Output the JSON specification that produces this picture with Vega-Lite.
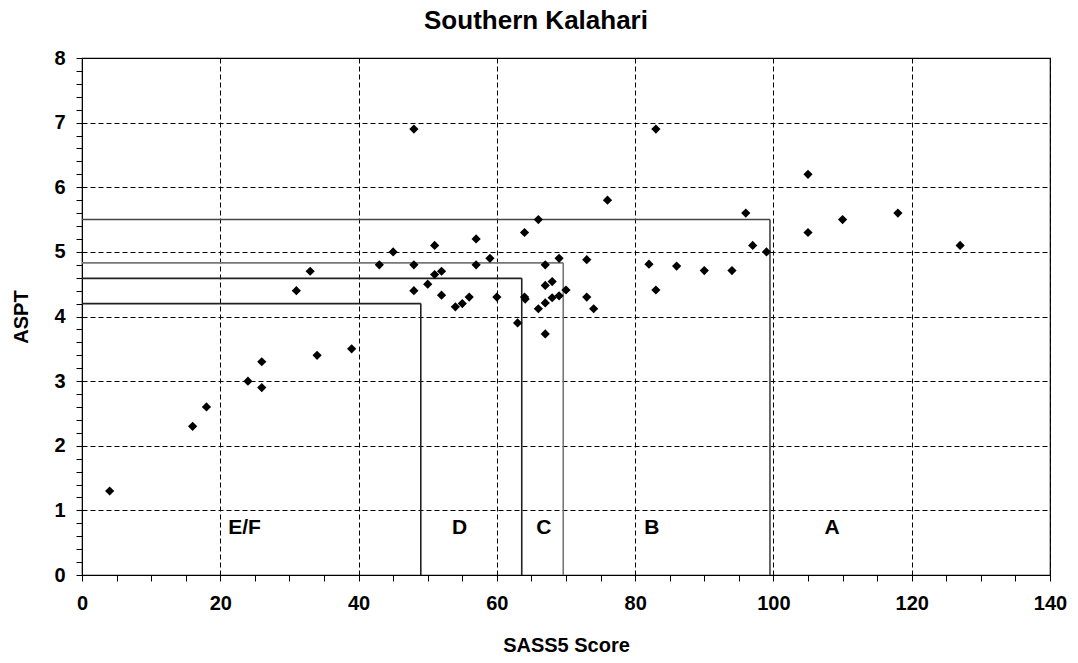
{
  "$schema": "https://vega.github.io/schema/vega-lite/v6.json",
  "autosize": "none",
  "width": 968,
  "height": 517,
  "padding": {"left": 82, "top": 58, "right": 28, "bottom": 88},
  "background": "white",
  "config": {
    "font": "Liberation Sans",
    "view": {"stroke": "black", "strokeWidth": 1.2},
    "axis": {
      "domainColor": "black",
      "tickColor": "black",
      "labelColor": "black",
      "titleColor": "black",
      "labelFont": "Liberation Sans",
      "titleFont": "Liberation Sans",
      "labelFontWeight": "bold",
      "titleFontWeight": "bold",
      "labelFontSize": 20,
      "titleFontSize": 20,
      "labelOverlap": false,
      "labelFlush": false,
      "tickCount": 1000
    }
  },
  "title": {
    "text": "Southern Kalahari",
    "fontSize": 26,
    "fontWeight": "bold",
    "font": "Liberation Sans",
    "color": "black",
    "anchor": "middle",
    "offset": 14,
    "dx": -30
  },
  "datasets": {
    "points": [
      {"score": 4, "aspt": 1.3},
      {"score": 16, "aspt": 2.3},
      {"score": 18, "aspt": 2.6},
      {"score": 24, "aspt": 3.0},
      {"score": 26, "aspt": 3.3},
      {"score": 26, "aspt": 2.9},
      {"score": 31, "aspt": 4.4},
      {"score": 33, "aspt": 4.7},
      {"score": 34, "aspt": 3.4},
      {"score": 39, "aspt": 3.5},
      {"score": 43, "aspt": 4.8},
      {"score": 45, "aspt": 5.0},
      {"score": 48, "aspt": 6.9},
      {"score": 48, "aspt": 4.8},
      {"score": 48, "aspt": 4.4},
      {"score": 50, "aspt": 4.5},
      {"score": 51, "aspt": 5.1},
      {"score": 51, "aspt": 4.65},
      {"score": 52, "aspt": 4.7},
      {"score": 52, "aspt": 4.33},
      {"score": 54, "aspt": 4.15},
      {"score": 55, "aspt": 4.2},
      {"score": 56, "aspt": 4.3},
      {"score": 57, "aspt": 5.2},
      {"score": 57, "aspt": 4.8},
      {"score": 59, "aspt": 4.9},
      {"score": 60, "aspt": 4.3},
      {"score": 63, "aspt": 3.9},
      {"score": 64, "aspt": 5.3},
      {"score": 64, "aspt": 4.3},
      {"score": 64.1, "aspt": 4.27},
      {"score": 66, "aspt": 5.5},
      {"score": 66, "aspt": 4.12},
      {"score": 67, "aspt": 4.8},
      {"score": 67, "aspt": 4.48},
      {"score": 67, "aspt": 4.21},
      {"score": 67, "aspt": 3.73},
      {"score": 68, "aspt": 4.54},
      {"score": 68, "aspt": 4.29},
      {"score": 69, "aspt": 4.9},
      {"score": 69, "aspt": 4.32},
      {"score": 70, "aspt": 4.41},
      {"score": 73, "aspt": 4.88},
      {"score": 73, "aspt": 4.3},
      {"score": 74, "aspt": 4.12},
      {"score": 76, "aspt": 5.8},
      {"score": 82, "aspt": 4.81},
      {"score": 83, "aspt": 6.9},
      {"score": 83, "aspt": 4.41},
      {"score": 86, "aspt": 4.78},
      {"score": 90, "aspt": 4.71},
      {"score": 94, "aspt": 4.71},
      {"score": 96, "aspt": 5.6},
      {"score": 97, "aspt": 5.1},
      {"score": 99, "aspt": 5.0},
      {"score": 105, "aspt": 6.2},
      {"score": 105, "aspt": 5.3},
      {"score": 110, "aspt": 5.5},
      {"score": 118, "aspt": 5.6},
      {"score": 127, "aspt": 5.1}
    ],
    "bands": [
      {"band": "E/F", "x": 0, "x2": 49, "y": 4.2, "y2": 4.2},
      {"band": "E/F", "x": 49, "x2": 49, "y": 0, "y2": 4.2},
      {"band": "D", "x": 0, "x2": 63.6, "y": 4.59, "y2": 4.59},
      {"band": "D", "x": 63.6, "x2": 63.6, "y": 0, "y2": 4.59},
      {"band": "C", "x": 0, "x2": 69.6, "y": 4.83, "y2": 4.83},
      {"band": "C", "x": 69.6, "x2": 69.6, "y": 0, "y2": 4.83},
      {"band": "B", "x": 0, "x2": 99.5, "y": 5.5, "y2": 5.5},
      {"band": "B", "x": 99.5, "x2": 99.5, "y": 0, "y2": 5.5}
    ],
    "labels": [
      {"label": "E/F", "x": 23.5, "y": 0.72},
      {"label": "D", "x": 54.6, "y": 0.72},
      {"label": "C", "x": 66.8, "y": 0.72},
      {"label": "B", "x": 82.4, "y": 0.72},
      {"label": "A", "x": 108.5, "y": 0.72}
    ]
  },
  "layer": [
    {
      "data": {"name": "bands"},
      "mark": {"type": "rule", "strokeWidth": 1.6},
      "encoding": {
        "x": {"field": "x", "type": "quantitative", "scale": {"domain": [0, 140], "nice": false},
          "axis": {
            "title": "SASS5 Score",
            "values": [0,5,10,15,20,25,30,35,40,45,50,55,60,65,70,75,80,85,90,95,100,105,110,115,120,125,130,135,140],
            "format": "d",
            "labelExpr": "datum.value % 20 === 0 ? datum.label : ''",
            "tickSize": 6,
            "labelPadding": 12,
            "titlePadding": 22,
            "grid": true,
            "gridColor": "black",
            "gridDash": [5, 3],
            "gridWidth": 1,
            "gridOpacity": {"condition": {"test": "datum.value % 20 === 0", "value": 1}, "value": 0}
          }
        },
        "x2": {"field": "x2"},
        "y": {"field": "y", "type": "quantitative", "scale": {"domain": [0, 8], "nice": false},
          "axis": {
            "title": "ASPT",
            "values": [0,0.2,0.4,0.6,0.8,1,1.2,1.4,1.6,1.8,2,2.2,2.4,2.6,2.8,3,3.2,3.4,3.6,3.8,4,4.2,4.4,4.6,4.8,5,5.2,5.4,5.6,5.8,6,6.2,6.4,6.6,6.8,7,7.2,7.4,7.6,7.8,8],
            "format": "~g",
            "labelExpr": "datum.value % 1 === 0 ? datum.label : ''",
            "tickSize": 6,
            "labelPadding": 11,
            "titlePadding": 22,
            "grid": true,
            "gridColor": "black",
            "gridDash": [5, 3],
            "gridWidth": 1,
            "gridOpacity": {"condition": {"test": "datum.value % 1 === 0", "value": 1}, "value": 0}
          }
        },
        "y2": {"field": "y2"},
        "color": {"field": "band", "type": "nominal", "legend": null,
          "scale": {"domain": ["E/F", "D", "C", "B"], "range": ["#222222", "#222222", "#777777", "#444444"]}}
      }
    },
    {
      "data": {"name": "points"},
      "mark": {"type": "point", "shape": "diamond", "filled": true, "color": "black", "size": 85, "opacity": 1},
      "encoding": {
        "x": {"field": "score", "type": "quantitative"},
        "y": {"field": "aspt", "type": "quantitative"}
      }
    },
    {
      "data": {"name": "labels"},
      "mark": {"type": "text", "fontSize": 21, "fontWeight": "bold", "font": "Liberation Sans", "color": "black", "align": "center", "baseline": "middle"},
      "encoding": {
        "x": {"field": "x", "type": "quantitative"},
        "y": {"field": "y", "type": "quantitative"},
        "text": {"field": "label"}
      }
    }
  ]
}
